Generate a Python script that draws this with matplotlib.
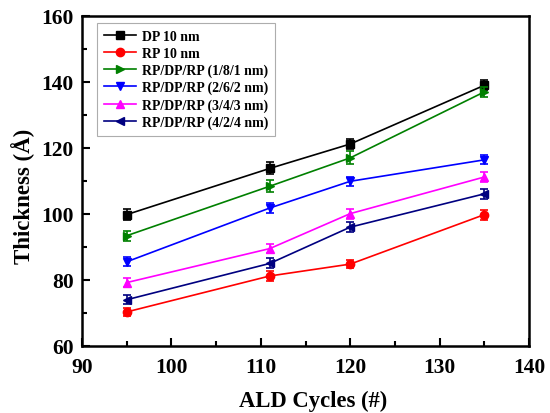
import matplotlib
matplotlib.use("Agg")
import matplotlib.pyplot as plt

cycles = [95, 111, 120, 135]

labels = ["DP 10 nm", "RP 10 nm", "RP/DP/RP (1/8/1 nm)", "RP/DP/RP (2/6/2 nm)",
          "RP/DP/RP (3/4/3 nm)", "RP/DP/RP (4/2/4 nm)"]
dp_10 = [99.8, 113.8, 121.2, 139.0]
rp_10 = [70.3, 81.2, 84.8, 99.8]
rdr_181 = [93.4, 108.4, 117.0, 137.0]
rdr_262 = [85.5, 101.8, 109.9, 116.4]
rdr_343 = [79.2, 89.5, 100.1, 111.2]
rdr_424 = [74.0, 85.0, 96.0, 106.1]

dp_10_err = [1.6, 1.8, 1.4, 1.5]
rp_10_err = [1.3, 1.5, 1.3, 1.5]
rdr_181_err = [1.5, 1.8, 2.0, 1.5]
rdr_262_err = [1.4, 1.4, 1.4, 1.4]
rdr_343_err = [1.4, 1.4, 1.5, 1.5]
rdr_424_err = [1.3, 1.5, 1.5, 1.5]

series = [dp_10, rp_10, rdr_181, rdr_262, rdr_343, rdr_424]
errors = [dp_10_err, rp_10_err, rdr_181_err, rdr_262_err, rdr_343_err, rdr_424_err]
colors = ["black", "#ff0000", "#008000", "#0000ff", "#ff00ff", "#000080"]
markers = ["s", "o", ">", "v", "^", "<"]

plt.rcParams["font.family"] = ["Liberation Serif", "DejaVu Serif"]
plt.rcParams["font.weight"] = "bold"

fig = plt.figure(figsize=(5.5, 4.14), dpi=100)
ax = fig.add_axes([0.149, 0.162, 0.813, 0.797])

for ys, err, color, marker, label in zip(series, errors, colors, markers, labels):
    ax.errorbar(cycles, ys, yerr=err, fmt="none", ecolor=color,
                elinewidth=1.2, capsize=3, capthick=1.2)
    ax.plot(cycles, ys, color=color, marker=marker, markersize=6,
            linewidth=1.2, label=label)

ax.set_xlim(90, 140)
ax.set_ylim(60, 160)
ax.set_xticks(range(90, 141, 10))
ax.set_xticks(range(95, 140, 10), minor=True)
ax.set_yticks(range(60, 161, 20))
ax.set_yticks(range(70, 160, 20), minor=True)
ax.tick_params(which="both", direction="in", top=False, right=False, labelsize=15.5, width=1.5)
ax.tick_params(which="major", length=6)
ax.tick_params(axis="x", which="major", pad=8)
ax.tick_params(axis="y", which="major", pad=6)
ax.tick_params(which="minor", length=3.5)
for lab in ax.get_xticklabels() + ax.get_yticklabels():
    lab.set_fontweight("bold")
for sp in ax.spines.values():
    sp.set_linewidth(1.8)

ax.set_xlabel("ALD Cycles (#)", fontsize=16.3, fontweight="bold")
ax.set_ylabel("Thickness (\u00c5)", fontsize=16.5, fontweight="bold")
ax.xaxis.set_label_coords(0.518, -0.132)
ax.yaxis.set_label_coords(-0.105, 0.455)

leg = ax.legend(loc="upper left", bbox_to_anchor=(0.034, 0.979), borderaxespad=0,
                prop={"weight": "bold", "size": 10}, frameon=True, fancybox=False,
                edgecolor="#999999", handlelength=2.3, labelspacing=0.28,
                borderpad=0.5, handletextpad=0.4)
leg.get_frame().set_linewidth(0.8)

fig.savefig("out.png", dpi=100)
